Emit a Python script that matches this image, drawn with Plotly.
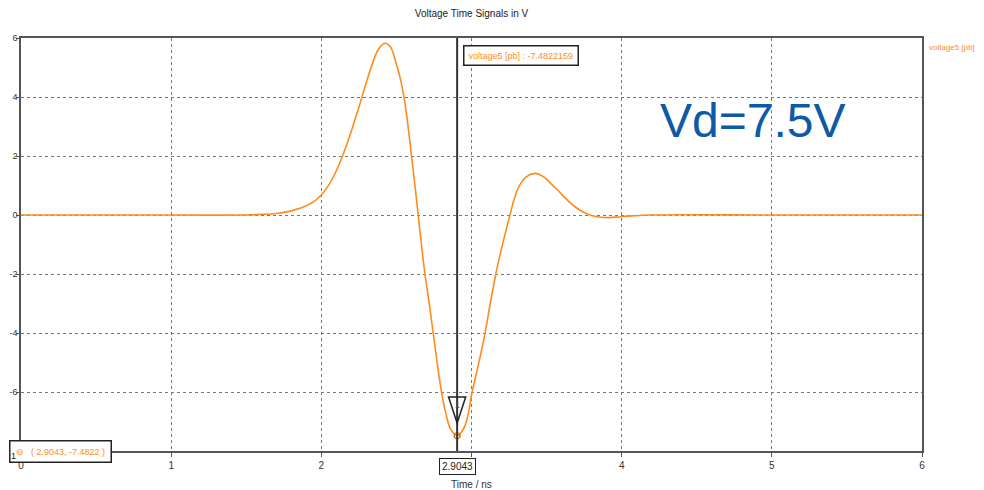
import plotly.graph_objects as go

# ---- data ----
time_ns = [0.0, 1.0, 1.5, 1.59, 1.70, 1.80, 1.88, 1.94, 2.00, 2.05, 2.10, 2.15, 2.20,
           2.25, 2.30, 2.345, 2.38, 2.423, 2.46, 2.50, 2.523, 2.55, 2.575, 2.60, 2.63,
           2.66, 2.69, 2.72, 2.745, 2.77, 2.80, 2.83, 2.86, 2.9043, 2.95, 2.98, 3.0,
           3.045, 3.09, 3.125, 3.162, 3.19, 3.222, 3.256, 3.289, 3.322, 3.367, 3.422,
           3.478, 3.522, 3.578, 3.633, 3.689, 3.744, 3.788, 3.85, 3.92, 3.99, 4.07,
           4.19, 5.0, 6.0]
voltage5 = [0.0, 0.0, 0.0, 0.02, 0.05, 0.14, 0.27, 0.42, 0.68, 1.02, 1.50, 2.12, 2.85,
            3.65, 4.50, 5.20, 5.62, 5.82, 5.70, 5.10, 4.69, 4.01, 3.10, 2.03, 0.70,
            -0.70, -2.0, -3.05, -4.01, -4.95, -5.99, -6.75, -7.25, -7.4822, -7.22, -6.70, -6.10,
            -5.10, -4.01, -3.0, -2.0, -1.35, -0.68, 0.0, 0.62, 1.02, 1.30, 1.41,
            1.30, 1.10, 0.82, 0.53, 0.28, 0.10, 0.0, -0.07, -0.09, -0.06, -0.03,
            0.0, 0.0, 0.0]
x_ticks = [0, 1, 2, 3, 4, 5, 6]
y_ticks = [-6, -4, -2, 0, 2, 4, 6]
cursor_t = 2.9043
cursor_v = -7.4822159
series_name = "voltage5 [pb]"

ORANGE = "#ff8c1a"
FONT = "Liberation Sans"

fig = go.Figure()
fig.add_trace(go.Scatter(x=time_ns, y=voltage5, mode="lines",
                         line=dict(color=ORANGE, width=1.6, shape="spline", smoothing=1.0),
                         showlegend=False, hoverinfo="skip"))
# small circle at cursor point
fig.add_trace(go.Scatter(x=[cursor_t], y=[cursor_v], mode="markers",
                         marker=dict(symbol="circle-open", size=6, color="#c86010", line=dict(width=1.2)),
                         showlegend=False, hoverinfo="skip"))

# cursor vertical line
fig.add_shape(type="line", xref="x", yref="paper", x0=cursor_t, x1=cursor_t, y0=0, y1=1,
              line=dict(color="#333333", width=2))
# inverted triangle marker
dx, ytop, ybot = 0.057, -6.17, -7.05
fig.add_shape(type="path", xref="x", yref="y",
              path=f"M {cursor_t-dx},{ytop} L {cursor_t+dx},{ytop} L {cursor_t},{ybot} Z",
              line=dict(color="#222222", width=1.5))
fig.add_annotation(x=cursor_t, y=-6.45, xref="x", yref="y", text="1", showarrow=False,
                   font=dict(family=FONT, size=9, color="#7a4a10"))

# label at top of cursor
fig.add_annotation(x=cursor_t, xref="x", xshift=6, xanchor="left",
                   y=1, yref="paper", yshift=-7, yanchor="top",
                   text=f"{series_name} : {cursor_v}", showarrow=False,
                   font=dict(family=FONT, size=9, color=ORANGE),
                   bordercolor="#222222", borderwidth=1.5, borderpad=4, bgcolor="white")
# x value box below axis
fig.add_annotation(x=cursor_t, xref="x", y=0, yref="paper", yshift=-7, yanchor="top",
                   text=f"{cursor_t}", showarrow=False,
                   font=dict(family=FONT, size=10, color="#222222"),
                   bordercolor="#222222", borderwidth=1, borderpad=2, bgcolor="white")
# bottom-left readout box
fig.add_annotation(x=0, xref="paper", xshift=-12, xanchor="left", y=0.027, yref="paper", yanchor="top",
                   text=f"⊖   ( {cursor_t}, {round(cursor_v, 4)} )", showarrow=False, align="left",
                   font=dict(family=FONT, size=9, color=ORANGE),
                   bordercolor="#222222", borderwidth=1.5, borderpad=5, bgcolor="white")
fig.add_annotation(x=0, xref="paper", xshift=-8, xanchor="center", y=-0.03, yref="paper",
                   text="1", showarrow=False, font=dict(family=FONT, size=9, color="#222222"))

# legend text at right
fig.add_annotation(x=1.0, xref="paper", xshift=5, xanchor="left", y=0.978, yref="paper", yanchor="middle",
                   text=series_name, showarrow=False, font=dict(family=FONT, size=8, color=ORANGE))
# Vd label
fig.add_annotation(x=0.707, xref="paper", xanchor="left", y=0.80, yref="paper", yanchor="middle",
                   text="Vd=7.5V", showarrow=False,
                   font=dict(family="Liberation Sans", size=48, color="#0d5aa7"))
# x axis title
fig.add_annotation(x=0.5, xref="paper", y=0, yref="paper", yshift=-33, yanchor="middle",
                   text="Time / ns", showarrow=False, font=dict(family=FONT, size=10, color="#333333"))

# page body has an 8px margin: size the figure so the plot area lands where the reference has it
fig.update_layout(
    width=976, height=482,
    margin=dict(l=13, r=62, t=30, b=39, autoexpand=False),
    paper_bgcolor="white", plot_bgcolor="white",
    title=dict(text="Voltage Time Signals in V", xref="paper", x=0.5, xanchor="center",
               yref="container", y=1 - 5.5 / 482, yanchor="middle",
               font=dict(family=FONT, size=10, color="#222222")),
    font=dict(family=FONT, size=10, color="#333333"),
)
fig.update_xaxes(range=[0, 6], tickvals=x_ticks, ticktext=[str(t) for t in x_ticks],
                 showgrid=True, gridcolor="#777777", griddash="dot", gridwidth=1,
                 showline=True, linecolor="#555555", linewidth=1.5, mirror=True,
                 ticks="outside", ticklen=4, tickcolor="#555555", zeroline=False, automargin=False)
fig.update_yaxes(range=[-8, 6], tickvals=y_ticks, ticktext=[str(t) for t in y_ticks],
                 showgrid=True, gridcolor="#777777", griddash="dot", gridwidth=1,
                 showline=True, linecolor="#555555", linewidth=1.5, mirror=True,
                 ticks="outside", ticklen=3, tickcolor="#555555", zeroline=False, automargin=False,
                 ticklabelstandoff=-3, tickfont=dict(size=9))

fig.write_html("out.html")
